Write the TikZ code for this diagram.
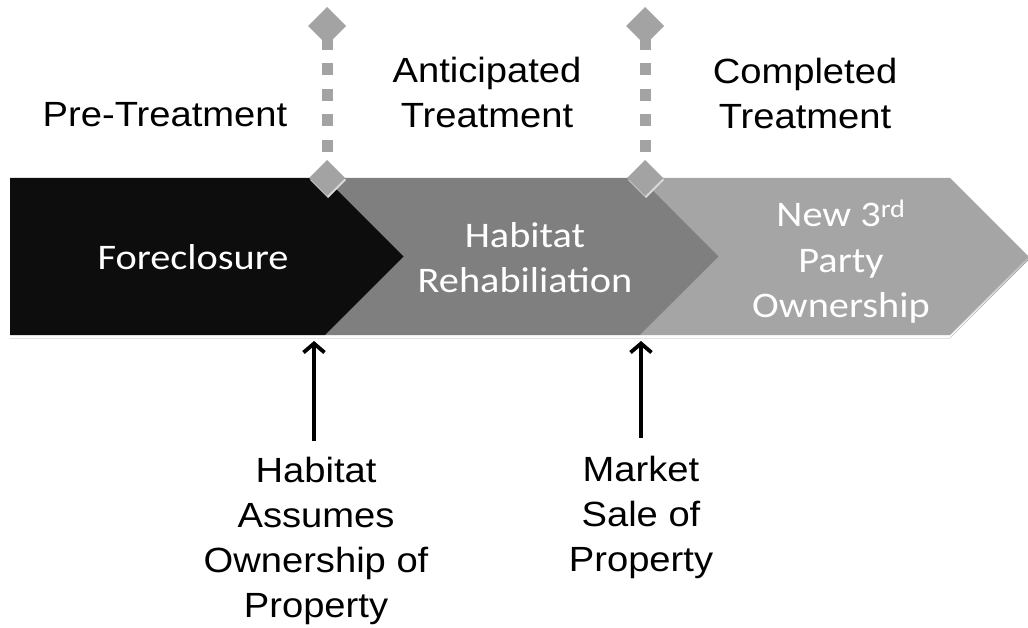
\documentclass[tikz,border=0pt]{standalone}
\usepackage{fontspec}
\setmainfont{Liberation Sans}[FakeStretch=1.09]
\newfontfamily\calibrifont{Carlito}[FakeStretch=1.12]
\usetikzlibrary{arrows.meta,calc}
\definecolor{stageA}{HTML}{0D0D0D}
\definecolor{stageB}{HTML}{7F7F7F}
\definecolor{stageC}{HTML}{A5A5A5}
\definecolor{marker}{HTML}{A3A3A3}
\definecolor{shade}{HTML}{DCDCDC}
\begin{document}
\begin{tikzpicture}[x=1pt,y=-1pt,
  stagetext/.style={font=\calibrifont\fontsize{36}{45}\selectfont, text=white, align=center, inner sep=0pt, anchor=base},
  labeltext/.style={font=\fontsize{35}{45}\selectfont, text=black, align=center, inner sep=0pt, anchor=base},
  milestone/.style={draw=marker, line width=11pt, dash pattern=on 12pt off 13.5pt},
  gem/.style={fill=marker},
  event/.style={draw=black, line width=3.8pt, -{Straight Barb[length=9pt,width=21pt,line width=3.8pt]}}
]
\useasboundingbox (0,0) rectangle (1028,628);

% soft drop shadow under the process bar
\fill[shade] (10,181) -- (950,181) -- (1028.5,259.5) -- (950,338) -- (10,338) -- cycle;

% process stages
\fill[stageC] (640,178) -- (950,178) -- (1028.5,256.5) -- (950,335) -- (640,335) -- (718.5,256.5) -- cycle;
\fill[stageB] (325,178) -- (640,178) -- (718.5,256.5) -- (640,335) -- (325,335) -- (403.5,256.5) -- cycle;
\fill[stageA] (10,178) -- (325,178) -- (403.5,256.5) -- (325,335) -- (10,335) -- cycle;

% milestone markers
\coordinate (m1top) at (327,26);
\coordinate (m1bot) at (327,178);
\coordinate (m2top) at (645,26);
\coordinate (m2bot) at (645,178);
\draw[milestone] (327,38) -- (327,160);
\draw[milestone] (645,38) -- (645,160);
\foreach \c in {m1top,m2top} {
  \fill[gem] ($(\c)+(0,-19)$) -- ($(\c)+(19,0)$) -- ($(\c)+(0,19)$) -- ($(\c)+(-19,0)$) -- cycle;
}
\foreach \c in {m1bot,m2bot} {
  \fill[black!15] ($(\c)+(1,-16)$) -- ($(\c)+(19,2)$) -- ($(\c)+(1,20)$) -- ($(\c)+(-17,2)$) -- cycle;
  \fill[gem] ($(\c)+(0,-18)$) -- ($(\c)+(18,0)$) -- ($(\c)+(0,18)$) -- ($(\c)+(-18,0)$) -- cycle;
}

% stage names (anchored at the baseline of the last line)
\node[stagetext] (fore) at (193,270) {Foreclosure};
\node[stagetext] (rehab) at (525,293) {Habitat\\Rehabiliation};
\node[stagetext] (owner) at (841,317) {New 3\textsuperscript{rd}\\Party\\Ownership};

% treatment periods
\node[labeltext] (pre) at (165,127) {Pre-Treatment};
\node[labeltext] (antic) at (487,128) {Anticipated\\Treatment};
\node[labeltext] (compl) at (805,129) {Completed\\Treatment};

% events
\node[labeltext] (assume) at (316,617) {Habitat\\Assumes\\Ownership of\\Property};
\node[labeltext] (sale) at (641,571) {Market\\Sale of\\Property};
\coordinate (e1) at (314,341);
\coordinate (e2) at (641,341);
\coordinate (s1) at (314,441);
\coordinate (s2) at (641,438);
\draw[event] (s1) -- (e1);
\draw[event] (s2) -- (e2);
\end{tikzpicture}
\end{document}
